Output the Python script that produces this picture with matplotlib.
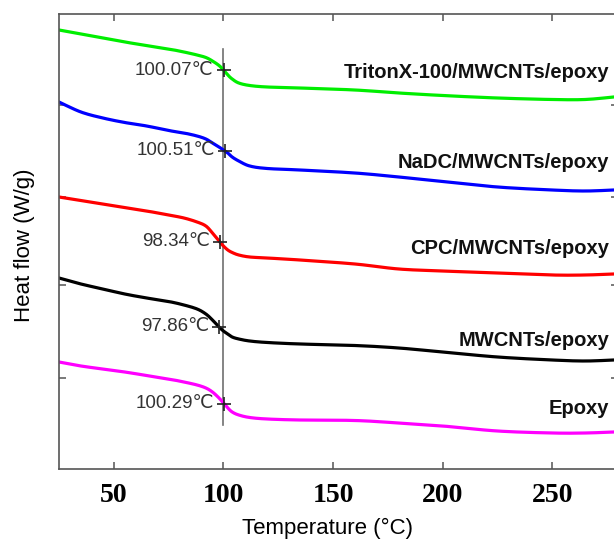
import numpy as np
import matplotlib
matplotlib.use('Agg')
import matplotlib.pyplot as plt

# Temperature grid (deg C) and heat-flow curves (arbitrary offset units)
temp = [25, 35, 45, 55, 65, 75, 82, 88, 92, 95, 98, 100, 102, 104, 107, 112,
        120, 135, 160, 180, 200, 225, 250, 265, 278]

triton = [4.39, 4.35, 4.31, 4.27, 4.235, 4.20, 4.17, 4.14, 4.115, 4.08, 4.035, 3.99,
          3.94, 3.90, 3.86, 3.835, 3.82, 3.81, 3.79, 3.76, 3.735, 3.71, 3.695, 3.695, 3.72]
nadc = [3.67, 3.57, 3.51, 3.465, 3.43, 3.385, 3.36, 3.33, 3.30, 3.26, 3.22, 3.19,
        3.16, 3.12, 3.08, 3.03, 3.005, 2.99, 2.96, 2.92, 2.875, 2.82, 2.79, 2.78, 2.79]
cpc = [2.72, 2.685, 2.65, 2.615, 2.58, 2.54, 2.51, 2.47, 2.43, 2.36, 2.28, 2.23,
       2.19, 2.165, 2.14, 2.12, 2.11, 2.09, 2.05, 2.00, 1.98, 1.96, 1.94, 1.94, 1.95]
mwcnt = [1.91, 1.85, 1.80, 1.75, 1.71, 1.675, 1.64, 1.60, 1.55, 1.49, 1.42, 1.38,
         1.35, 1.32, 1.30, 1.28, 1.265, 1.25, 1.235, 1.21, 1.17, 1.12, 1.09, 1.08, 1.09]
epoxy = [1.07, 1.03, 1.00, 0.97, 0.935, 0.90, 0.87, 0.84, 0.81, 0.77, 0.71, 0.66,
         0.61, 0.57, 0.54, 0.515, 0.50, 0.49, 0.485, 0.46, 0.43, 0.38, 0.36, 0.36, 0.37]

names = ['TritonX-100/MWCNTs/epoxy', 'NaDC/MWCNTs/epoxy', 'CPC/MWCNTs/epoxy',
         'MWCNTs/epoxy', 'Epoxy']
tg = [100.07, 100.51, 98.34, 97.86, 100.29]
name_y = [3.97, 3.07, 2.21, 1.29, 0.61]
colors = ['#00ee00', '#0000ff', '#ff0000', '#000000', '#ff00ff']
series = [triton, nadc, cpc, mwcnt, epoxy]


def smooth(x, y, n=12):
    # Catmull-Rom through the read points, just to round off the corners
    x = np.asarray(x, float)
    y = np.asarray(y, float)
    xs, ys = [], []
    for i in range(len(x) - 1):
        i0, i3 = max(i - 1, 0), min(i + 2, len(x) - 1)
        t = np.linspace(0, 1, n, endpoint=False)
        for arr, out in ((x, xs), (y, ys)):
            p0, p1, p2, p3 = arr[i0], arr[i], arr[i + 1], arr[i3]
            out.append(0.5 * (2 * p1 + (-p0 + p2) * t
                              + (2 * p0 - 5 * p1 + 4 * p2 - p3) * t ** 2
                              + (-p0 + 3 * p1 - 3 * p2 + p3) * t ** 3))
    xs.append([x[-1]])
    ys.append([y[-1]])
    return np.concatenate(xs), np.concatenate(ys)


fig = plt.figure(figsize=(6.14, 5.4), dpi=100)
ax = fig.add_axes([59 / 614, 71 / 540, 559 / 614, 455 / 540])

# reference line at 100 C
ax.plot([100, 100], [0.44, 4.20], color='#707070', lw=1.2, zorder=1)

for vals, c, t, name, ny in zip(series, colors, tg, names, name_y):
    sx, sy = smooth(temp, vals)
    ax.plot(sx, sy, color=c, lw=2.3, zorder=2)
    yt = np.interp(t, sx, sy)
    ax.plot(t, yt, marker='+', color='#222222', ms=10, mew=1.2, zorder=3)
    ax.text(t - 4.5, yt, f'{t:.2f}\u2103', ha='right', va='center',
            fontsize=13.5, color='#333333', family=['Liberation Sans', 'DejaVu Sans'])
    ax.text(276, ny, name, ha='right', va='center', fontsize=14.5,
            fontweight='bold', color='#111111', family='Liberation Sans')

ax.set_xlim(25, 280)
ax.set_ylim(0, 4.55)
ax.set_xticks([50, 100, 150, 200, 250])
ax.set_yticks([0.91, 1.84, 2.72, 3.64])
ax.set_yticklabels([])
ax.tick_params(axis='both', direction='in', length=5, width=1.1, color='#555555',
               top=True, right=True)
ax.tick_params(axis='x', pad=10)
for lab in ax.get_xticklabels():
    lab.set_family('Liberation Serif')
    lab.set_fontweight('bold')
    lab.set_fontsize(20)
for sp in ax.spines.values():
    sp.set_color('#555555')
    sp.set_linewidth(1.2)

ax.set_xlabel('Temperature (°C)', fontsize=16, family='Liberation Sans')
ax.set_ylabel('Heat flow (W/g)', fontsize=16, family='Liberation Sans')
ax.xaxis.set_label_coords(0.48, -0.108)
ax.yaxis.set_label_coords(-0.043, 0.492)

fig.savefig('out.png', dpi=100)
